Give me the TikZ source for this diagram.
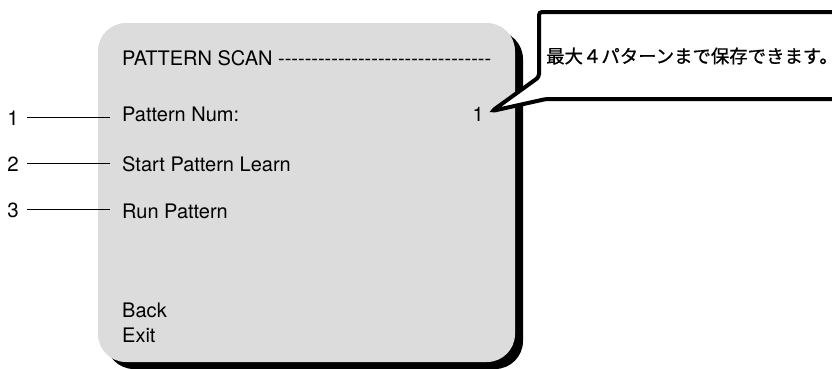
\documentclass[tikz,border=0pt]{standalone}
\usepackage{fontspec}
\setmainfont{TeX Gyre Heros}
\newfontfamily\cjk[FakeBold=0.8]{Noto Sans CJK JP}
\definecolor{panelgrey}{HTML}{DCDCDC}
\tikzset{
  menutext/.style={anchor=base west, inner sep=0pt, font=\fontsize{20}{24}\selectfont},
  numlabel/.style={anchor=base east, inner sep=0pt, font=\fontsize{20.5}{24}\selectfont},
  leader/.style={line width=1pt},
  panel/.style={fill=panelgrey, rounded corners=28pt},
  panelshadow/.style={fill=black, rounded corners=28pt},
  balloon/.style={draw=black, fill=white, line width=4pt, rounded corners=3pt, line join=miter},
}
\begin{document}
\begin{tikzpicture}[x=1pt, y=-1pt]
  \useasboundingbox (0,0) rectangle (832,368);
  \clip (0,0) rectangle (832,368);

  % menu panel with its drop shadow
  \fill[panelshadow] (106,31) rectangle (523,369);
  \fill[panel] (98,23) rectangle (515,362);

  % menu entries
  \node[menutext] (title) at (122,65) {PATTERN SCAN -{}-{}-{}-{}-{}-{}-{}-{}-{}-{}-{}-{}-{}-{}-{}-{}-{}-{}-{}-{}-{}-{}-{}-{}-{}-{}-{}-{}-{}-{}-{}-};
  \node[menutext] (t1) at (122,121) {Pattern Num:};
  \node[menutext, anchor=base east] (v1) at (484,121) {1};
  \node[menutext] (t2) at (122,171) {Start Pattern Learn};
  \node[menutext] (t3) at (122,218) {Run Pattern};
  \node[menutext] (back) at (122,317) {Back};
  \node[menutext] (exit) at (122,342) {Exit};

  % numbered leaders
  \node[numlabel] (n1) at (19,125) {1};
  \node[numlabel] (n2) at (19,171) {2};
  \node[numlabel] (n3) at (19,217) {3};
  \draw[leader] ([xshift=8pt]n1.east) -- ([xshift=-12pt]n1.east -| t1.west);
  \draw[leader] ([xshift=8pt]n2.east) -- ([xshift=-12pt]n2.east -| t2.west);
  \draw[leader] ([xshift=8pt]n3.east) -- ([xshift=-12pt]n3.east -| t3.west);

  % speech balloon pointing at the pattern number
  \coordinate (tip) at (492,111);
  \draw[balloon] (539,77) -- (539,12) -- (850,12) -- (850,99) -- (546,99) -- (tip) -- cycle;
  \node[anchor=west, inner sep=0pt, font=\cjk\fontsize{18.4}{22}\selectfont] (note) at (546,56) {最大４パターンまで保存できます。};
\end{tikzpicture}
\end{document}
